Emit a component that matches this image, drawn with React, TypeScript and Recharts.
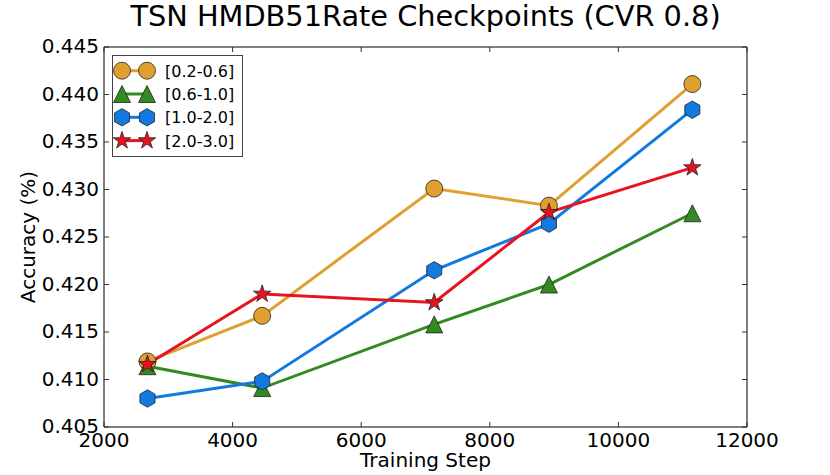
import React from 'react';
import { LineChart, Line, XAxis, YAxis, Legend } from 'recharts';

const STEPS = [2676, 4460, 7136, 8920, 11150];
const RATE_02_06 = [0.4119, 0.4167, 0.4301, 0.4283, 0.4411];
const RATE_06_10 = [0.4114, 0.4091, 0.4158, 0.42, 0.4275];
const RATE_10_20 = [0.408, 0.4098, 0.4215, 0.4264, 0.4384];
const RATE_20_30 = [0.4116, 0.419, 0.4181, 0.4276, 0.4323];

const X_TICKS = [2000, 4000, 6000, 8000, 10000, 12000];
const Y_TICKS = [0.405, 0.41, 0.415, 0.42, 0.425, 0.43, 0.435, 0.44, 0.445];

const FONT = '"DejaVu Sans", sans-serif';

type MarkerKind = 'circle' | 'triangle' | 'hexagon' | 'star';

const SERIES: { key: string; name: string; color: string; marker: MarkerKind }[] = [
  { key: 'r1', name: '[0.2-0.6]', color: '#E0A030', marker: 'circle' },
  { key: 'r2', name: '[0.6-1.0]', color: '#338A22', marker: 'triangle' },
  { key: 'r3', name: '[1.0-2.0]', color: '#1279E0', marker: 'hexagon' },
  { key: 'r4', name: '[2.0-3.0]', color: '#E6141E', marker: 'star' },
];

const rows = STEPS.map((step, i) => ({
  step,
  r1: RATE_02_06[i],
  r2: RATE_06_10[i],
  r3: RATE_10_20[i],
  r4: RATE_20_30[i],
}));

function polygon(cx: number, cy: number, pts: [number, number][]) {
  return pts.map(([px, py]) => `${(cx + px).toFixed(2)},${(cy + py).toFixed(2)}`).join(' ');
}

function Marker({ kind, cx, cy, color }: { kind: MarkerKind; cx: number; cy: number; color: string }) {
  const edge = { stroke: '#222', strokeWidth: 0.8, fill: color };
  if (kind === 'circle') return <circle cx={cx} cy={cy} r={8.5} {...edge} />;
  if (kind === 'triangle') {
    const r = 8.5;
    return <polygon points={polygon(cx, cy, [[0, -r], [-r, r], [r, r]])} {...edge} />;
  }
  if (kind === 'hexagon') {
    const r = 8.7;
    const pts: [number, number][] = [];
    for (let k = 0; k < 6; k++) {
      const a = (-90 + k * 60) * (Math.PI / 180);
      pts.push([r * Math.cos(a), r * Math.sin(a)]);
    }
    return <polygon points={polygon(cx, cy, pts)} {...edge} />;
  }
  // five-point star
  const outer = 9.2;
  const inner = outer * 0.382;
  const pts: [number, number][] = [];
  for (let k = 0; k < 10; k++) {
    const a = (-90 + k * 36) * (Math.PI / 180);
    const r = k % 2 === 0 ? outer : inner;
    pts.push([r * Math.cos(a), r * Math.sin(a)]);
  }
  return <polygon points={polygon(cx, cy, pts)} {...edge} />;
}

const tickStroke = '#333';

function BottomTick({ x, y, payload }: any) {
  return (
    <g>
      <line x1={x} x2={x} y1={y} y2={y - 5} stroke={tickStroke} />
      <text x={x} y={y + 20} textAnchor="middle" fontSize={20} fontFamily={FONT} fill="#000">
        {payload.value}
      </text>
    </g>
  );
}

function LeftTick({ x, y, payload }: any) {
  return (
    <g>
      <line x1={x} x2={x + 5} y1={y} y2={y} stroke={tickStroke} />
      <text x={x - 5} y={y + 6} textAnchor="end" fontSize={20} fontFamily={FONT} fill="#000">
        {Number(payload.value).toFixed(3)}
      </text>
    </g>
  );
}

function TopTick({ x, y }: any) {
  return <line x1={x} x2={x} y1={y} y2={y + 5} stroke={tickStroke} />;
}

function RightTick({ x, y }: any) {
  return <line x1={x} x2={x - 5} y1={y} y2={y} stroke={tickStroke} />;
}

function LegendBox() {
  return (
    <div
      style={{
        width: 131,
        height: 102,
        boxSizing: 'border-box',
        border: '1px solid #444',
        background: '#fff',
      }}
    >
      <svg width={129} height={100}>
        {SERIES.map((s, i) => {
          const cy = 14.7 + i * 23.3;
          return (
            <g key={s.key}>
              <line x1={9} x2={34} y1={cy} y2={cy} stroke={s.color} strokeWidth={3} />
              <Marker kind={s.marker} cx={9} cy={cy} color={s.color} />
              <Marker kind={s.marker} cx={34} cy={cy} color={s.color} />
              <text x={52} y={cy + 6} fontSize={16} fontFamily={FONT} fill="#000">
                {s.name}
              </text>
            </g>
          );
        })}
      </svg>
    </div>
  );
}

export default function App() {
  return (
    <div style={{ position: 'absolute', left: 0, top: 0, width: 830, height: 475, background: '#fff' }}>
      <LineChart width={830} height={475} data={rows} margin={{ top: 17, right: 23, bottom: 18, left: 44 }}>
        <XAxis
          dataKey="step"
          type="number"
          domain={[2000, 12000]}
          ticks={X_TICKS}
          allowDataOverflow
          height={30}
          tickSize={0}
          tickMargin={0}
          tick={<BottomTick />}
          axisLine={{ stroke: '#000', strokeWidth: 1 }}
          label={{
            content: ({ viewBox }: any) => (
              <text
                x={viewBox.x + viewBox.width / 2}
                y={viewBox.y + 40}
                textAnchor="middle"
                fontSize={20}
                fontFamily={FONT}
                fill="#000"
              >
                Training Step
              </text>
            ),
          }}
        />
        {/* top and right axes only close the frame and carry inward ticks */}
        <XAxis
          xAxisId="top"
          orientation="top"
          dataKey="step"
          type="number"
          domain={[2000, 12000]}
          ticks={X_TICKS}
          allowDataOverflow
          height={30}
          tickSize={0}
          tickMargin={0}
          tick={<TopTick />}
          axisLine={{ stroke: '#000', strokeWidth: 1 }}
          label={{
            content: ({ viewBox }: any) => (
              <text
                x={viewBox.x + viewBox.width / 2}
                y={viewBox.y + viewBox.height - 21}
                textAnchor="middle"
                fontSize={28.8}
                fontFamily={FONT}
                fill="#000"
              >
                TSN HMDB51Rate Checkpoints (CVR 0.8)
              </text>
            ),
          }}
        />
        <YAxis
          type="number"
          domain={[0.405, 0.445]}
          ticks={Y_TICKS}
          allowDataOverflow
          width={60}
          tickSize={0}
          tickMargin={0}
          tick={<LeftTick />}
          axisLine={{ stroke: '#000', strokeWidth: 1 }}
          label={{
            content: ({ viewBox }: any) => {
              const cx = 35;
              const cy = viewBox.y + viewBox.height / 2;
              return (
                <text
                  x={cx}
                  y={cy}
                  transform={`rotate(-90 ${cx} ${cy})`}
                  textAnchor="middle"
                  fontSize={20}
                  fontFamily={FONT}
                  fill="#000"
                >
                  Accuracy (%)
                </text>
              );
            },
          }}
        />
        <YAxis
          yAxisId="right"
          orientation="right"
          type="number"
          domain={[0.405, 0.445]}
          ticks={Y_TICKS}
          allowDataOverflow
          width={60}
          tickSize={0}
          tickMargin={0}
          tick={<RightTick />}
          axisLine={{ stroke: '#000', strokeWidth: 1 }}
        />
        <Legend
          layout="vertical"
          align="center"
          verticalAlign="middle"
          content={() => <LegendBox />}
          wrapperStyle={{ position: 'absolute', left: 112, top: 55, width: 131, height: 102 }}
        />
        {SERIES.map((s) => (
          <Line
            key={s.key}
            dataKey={s.key}
            name={s.name}
            stroke={s.color}
            strokeWidth={3}
            isAnimationActive={false}
            activeDot={false}
            dot={(p: any) => (
              <Marker key={`${s.key}-${p.index}`} kind={s.marker} cx={p.cx} cy={p.cy} color={s.color} />
            )}
          />
        ))}
      </LineChart>
    </div>
  );
}
